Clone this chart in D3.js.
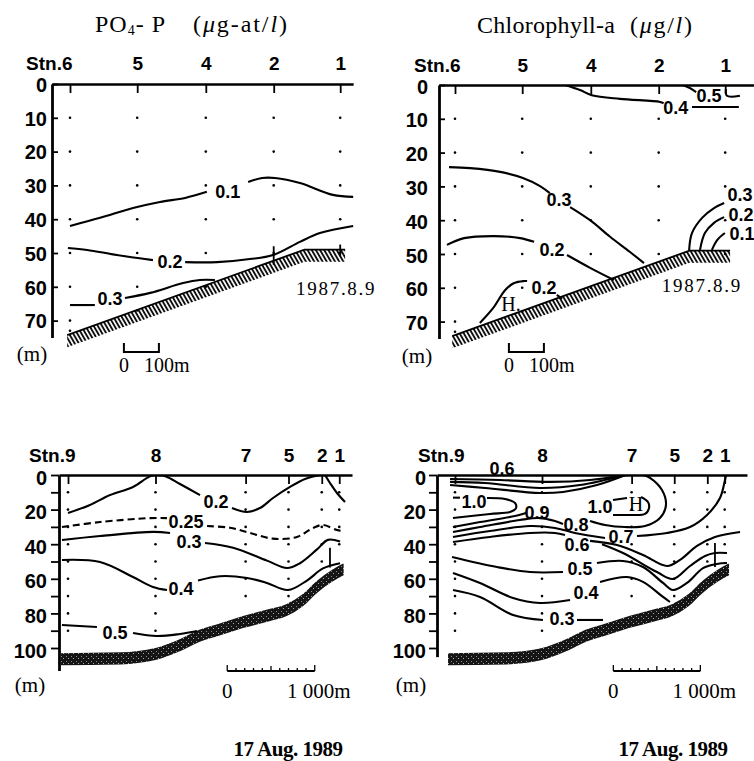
<!DOCTYPE html>
<html>
<head>
<meta charset="utf-8">
<script src="https://cdnjs.cloudflare.com/ajax/libs/d3/7.8.5/d3.min.js"></script>
<style>
  body { margin: 0; background: #fff; }
  text { fill: #000; }
  .ax text, .stn text { font-family: "Liberation Sans", Arial, sans-serif; font-weight: bold; font-size: 20px; }
  .stn text { font-size: 19px; }
  .clab { font-family: "Liberation Sans", Arial, sans-serif; font-weight: bold; font-size: 18px; }
  .serif { font-family: "Liberation Serif", "Times New Roman", serif; }
</style>
</head>
<body>
<svg id="chart" width="754" height="761"></svg>
<script>
//////////////////////////////////////////////////////////////
///////////////////////// Data ///////////////////////////////
//////////////////////////////////////////////////////////////

// distances in m along the section, depths in m

// 1987.8.9 section
var stations1987 = ["Stn.6", "5", "4", "2", "1"];
var stationDist1987 = [0, 192, 388, 582, 772];
var lastSample1987 = [73, 67, 60, 50, 50];
var depthTicks1987 = [0, 10, 20, 30, 40, 50, 60, 70];
var seabed1987 = [[-8, 74.3], [670, 49], [786, 49]];

// 17 Aug. 1989 section
var stations1989 = ["Stn.9", "8", "7", "5", "2", "1"];
var stationDist1989 = [0, 1000, 2030, 2520, 2900, 3100];
var lastSample1989 = [90, 90, 70, 70, 50, 40];
var depthTicks1989 = [0, 10, 20, 30, 40, 50, 60, 70, 80, 90, 100];
var seabed1989 = [[-80, 103], [600, 102.5], [1000, 100], [1250, 95.5], [1500, 89.5], [1750, 85.5],
                  [2000, 81.5], [2300, 77.5], [2500, 74.5], [2680, 69], [2850, 61], [3010, 55], [3150, 51]];

// contour lines: level, label position [dist, depth], line pieces
var po4_1987 = [
  {level: "0.1", label: [451, 31.8], parts: [
    [[0, 42.0], [86, 39.6], [180, 36.7], [257, 34.9], [329, 33.7], [391, 31.9]],
    [[509, 29.0], [549, 27.8], [586, 27.8], [657, 29.3], [751, 32.8], [809, 33.4]]]},
  {level: "0.2", label: [286, 52.5], parts: [
    [[-6, 48.5], [49, 49.1], [134, 50.6], [237, 52.1]],
    [[329, 52.7], [420, 52.7], [514, 51.8], [580, 50.6], [657, 46.7], [714, 44.1], [809, 42.0]]]},
  {level: "0.3", label: [114, 63.6], parts: [
    [[0, 65.4], [71, 65.4]],
    [[157, 63.3], [229, 61.8], [323, 58.9], [371, 58.0], [414, 58.0]]]}
];
var po4Marks1987 = [[582, 48, 53.5], [772, 47.5, 51]];

var chl_1987 = [
  {level: "0.4", label: [631, 6.8], parts: [
    [[315, 0], [357, 1.5], [391, 3.0], [471, 4.1], [586, 5.0], [596, 5.4]],
    [[677, 6.5], [811, 6.5]]]},
  {level: "0.5", label: [726, 3.2], parts: [
    [[651, 0], [671, 0.9], [689, 2.1]],
    [[774, 1.2], [777, 3.2], [814, 3.2]]]},
  {level: "0.3", label: [297, 34], parts: [
    [[-17, 24.3], [43, 24.6], [129, 25.7], [194, 27.5], [243, 29.9], [271, 32.0]],
    [[329, 36.1], [386, 40.0], [443, 44.9], [500, 49.4], [540, 52.7]]]},
  {level: "0.2", label: [277, 48.8], parts: [
    [[-23, 47.3], [26, 45.3], [111, 44.7], [186, 45.3], [226, 46.4]],
    [[320, 50.3], [386, 54.1], [454, 57.7]]]},
  {level: "0.2", label: [254, 59.8], parts: [
    [[71, 70.4], [111, 65.7], [143, 60.7], [169, 58.6], [197, 58.0], [206, 58.0]],
    [[291, 62.1], [306, 63.3]]]},
  {level: "0.3", label: [814, 32.3], parts: [
    [[669, 48.8], [677, 43.8], [706, 39.3], [740, 36.4], [769, 34.9]]]},
  {level: "0.2", label: [817, 38.2], parts: [
    [[700, 48.8], [714, 43.8], [740, 40.8], [769, 39.1]]]},
  {level: "0.1", label: [820, 43.8], parts: [
    [[734, 48.8], [749, 45.9], [771, 43.8]]]}
];
var chlHighs1987 = [["H.", 160, 64.8]];

var po4_1989 = [
  {level: "0.2", label: [1691, 15.3], parts: [
    [[0, 22], [251, 17.3], [480, 11.6], [743, 6.9], [937, 0.8], [1029, 0], [1120, 0.8], [1280, 5.2], [1509, 11.6]],
    [[1874, 19.1], [2046, 21.4], [2194, 19.1], [2343, 13.3], [2537, 6.9], [2709, 2.3], [2880, 0]],
    [[2937, 0], [2994, 4.6], [3074, 10.4], [3166, 15.6]]]},
  {level: "0.25", dashed: true, label: [1349, 26.9], parts: [
    [[-69, 30.1], [366, 27.2], [937, 24.9], [1131, 24.9]],
    [[1589, 29.5], [1851, 30.5], [2080, 33.5], [2343, 36.8], [2617, 35.8], [2800, 30.6], [2914, 28.9], [3074, 31.8], [3150, 32.5]]]},
  {level: "0.3", label: [1383, 38.4], parts: [
    [[-69, 37.6], [366, 35.3], [971, 32.9], [1166, 33.5]],
    [[1566, 39.3], [1886, 42], [2274, 49.5], [2503, 53.8], [2651, 51], [2846, 43], [2971, 37.5], [3109, 38.5]]]},
  {level: "0.4", label: [1291, 65.9], parts: [
    [[-69, 49.1], [366, 50.3], [743, 59.0], [971, 64.7], [1131, 66.5]],
    [[1486, 61], [1737, 58.5], [2046, 59.5], [2274, 62.4], [2514, 66.5], [2731, 61], [2914, 54], [3109, 51]]]},
  {level: "0.5", label: [537, 91], parts: [
    [[-69, 86.7], [331, 87.9]],
    [[743, 91.3], [1017, 93.1], [1280, 91.9], [1474, 90.2]]]}
];
var po4Marks1989 = [[2994, 42, 53.5]];

var chl_1989 = [
  {level: "0.6", label: [540, -4], parts: [
    [[-57, 5.8], [345, 7.5], [977, 10.4], [1241, 9.8], [1632, 5.8], [1960, 0]],
    [[-57, 4.0], [345, 4.6], [977, 7.5], [1437, 5.8], [1960, 0]],
    [[-57, 2.3], [517, 2.9], [1092, 4.0], [1552, 2.9], [1960, 0]]]},
  {level: "1.0", label: [218, 15.3], parts: [
    [[-23, 13.1], [57, 13.1]],
    [[368, 13.3], [575, 13.9], [690, 16.2], [701, 19.1], [632, 21.4], [402, 22.5], [-23, 24.9]]]},
  {level: "0.9", label: [943, 21.6], parts: [
    [[-23, 30.1], [287, 27.2], [690, 23.7], [816, 22.0]]]},
  {level: "0.8", label: [1391, 28.9], parts: [
    [[-23, 32.9], [287, 30.1], [747, 26.0], [977, 24.9], [1149, 26.6], [1241, 28.3]],
    [[1552, 26.6], [1724, 28.9], [1954, 30.1], [2184, 29.5], [2356, 24.9], [2425, 17.3], [2379, 8.7], [2241, 1.7], [2161, 0]]]},
  {level: "1.0", label: [1667, 18.5], parts: [
    [[1816, 14.5], [1977, 13.3]],
    [[2138, 12.7], [2218, 15.6], [2230, 19.1], [2184, 22.5], [2011, 23.1], [1816, 23.1]]]},
  {level: "0.7", label: [1908, 35.8], parts: [
    [[-23, 35.8], [402, 32.4], [862, 29.5], [1149, 30.6], [1379, 33.5], [1724, 36.4]],
    [[2092, 35.3], [2437, 33.5], [2701, 30.1], [2897, 23.1], [3046, 13.3], [3103, 2.9], [3115, 0]]]},
  {level: "0.6", label: [1402, 39.9], parts: [
    [[-23, 38.7], [402, 35.8], [862, 33.5], [1149, 33.5], [1264, 34.7]],
    [[1552, 38.1], [1862, 40.5], [2161, 46.2], [2437, 52.6], [2586, 49.1], [2782, 41.0], [2988, 35.8], [3276, 32.9]],
    [[1690, 40.0], [1931, 45.1], [2322, 56.1], [2506, 60.1], [2701, 52.6], [2874, 46.8], [2988, 45.1], [3126, 45.1]]]},
  {level: "0.5", label: [1437, 53.8], parts: [
    [[-34, 47.4], [483, 53.2], [862, 56.1], [1241, 56.1]],
    [[1632, 50.9], [1931, 49.7], [2161, 53.2], [2391, 62.4], [2506, 66.5], [2667, 62.4], [2851, 53.8], [3011, 51.4], [3126, 50.9]]]},
  {level: "0.4", label: [1506, 68.2], parts: [
    [[-23, 56.6], [287, 62.4], [667, 71.1], [977, 74.0], [1322, 72.3]],
    [[1667, 61.8], [1977, 59.0], [2161, 61.8], [2391, 70.5], [2471, 73.4]]]},
  {level: "0.3", label: [1230, 83.2], parts: [
    [[-23, 66.5], [287, 70.5], [667, 80.9], [1011, 83.8]],
    [[1402, 83.8], [1701, 83.8]]]}
];
var chlMarks1989 = [[2988, 39.3, 53.2]];
var chlHighs1989 = [["H", 2080, 16.8]];

//////////////////////////////////////////////////////////////
/////////////////////// Panel layout /////////////////////////
//////////////////////////////////////////////////////////////

var panels = [
  {id: "a", x0: 70, kx: 0.35, y0: 84, ky: 3.38, axisX: 52, dRight: 809, zEnd: 75,
   yTicks: depthTicks1987, labelStep: 10, tickIn: true, yPad: 5, yDy: "0.36em", stnPad: 14, stnShift: 2,
   names: stations1987, dist: stationDist1987, samples: lastSample1987,
   seabed: seabed1987, band: 3.6, fill: "url(#hatch)", contours: po4_1987, marks: po4Marks1987, highs: [],
   bar: [154, 100, 79.3], unit: [32, 361], date: ["1987.8.9", 646, 62.4]},
  {id: "b", x0: 455, kx: 0.35, y0: 85, ky: 3.38, axisX: 439, dRight: 854, zEnd: 75,
   yTicks: depthTicks1987, labelStep: 10, tickIn: true, yPad: 11, yDy: "0.4em", stnPad: 13, stnShift: 5,
   names: stations1987, dist: stationDist1987, samples: lastSample1987,
   seabed: seabed1987, band: 3.6, fill: "url(#hatch)", contours: chl_1987, marks: [], highs: chlHighs1987,
   bar: [154, 100, 79], unit: [417, 363], date: ["1987.8.9", 591, 61.2]},
  {id: "c", x0: 68, kx: 0.0875, y0: 475, ky: 1.73, axisX: 59, dRight: 3246, zEnd: 113,
   yTicks: depthTicks1989, labelStep: 20, tickIn: false, yPad: 4, yDy: "0.45em", stnPad: 13, stnShift: 7,
   names: stations1989, dist: stationDist1989, samples: lastSample1989,
   seabed: seabed1989, band: 7, fill: "url(#stipple)", contours: po4_1989, marks: po4Marks1989, highs: [],
   bar: [1820, 1000, 113.3], unit: [30, 692], footer: [288, 756]},
  {id: "d", x0: 455, kx: 0.087, y0: 475, ky: 1.73, axisX: 437, dRight: 3356, zEnd: 105,
   yTicks: depthTicks1989, labelStep: 20, tickIn: false, yPad: 3, yDy: "0.45em", stnPad: 13, stnShift: 9,
   names: stations1989, dist: stationDist1989, samples: lastSample1989,
   seabed: seabed1989, band: 7, fill: "url(#stipple)", contours: chl_1989, marks: chlMarks1989, highs: chlHighs1989,
   bar: [1820, 1000, 113.3], unit: [411, 692], footer: [673, 756]}
];

//////////////////////////////////////////////////////////////
//////////////////////// Drawing /////////////////////////////
//////////////////////////////////////////////////////////////

var svg = d3.select("#chart");
svg.append("rect").attr("width", 754).attr("height", 761).attr("fill", "#fff");

var defs = svg.append("defs");

//Hatching under the 1987 bottom
var hatch = defs.append("pattern")
    .attr("id", "hatch")
    .attr("patternUnits", "userSpaceOnUse")
    .attr("width", 3.6).attr("height", 10)
    .attr("patternTransform", "rotate(-30)");
hatch.append("line")
    .attr("x1", 1).attr("y1", 0).attr("x2", 1).attr("y2", 10)
    .attr("stroke", "#000").attr("stroke-width", 1.8);

//Stippled band for the 1989 bottom
var stip = defs.append("pattern")
    .attr("id", "stipple")
    .attr("patternUnits", "userSpaceOnUse")
    .attr("width", 5).attr("height", 5);
stip.append("rect").attr("width", 5).attr("height", 5).attr("fill", "#151515");
stip.append("rect").attr("x", 1).attr("y", 1).attr("width", 1).attr("height", 1).attr("fill", "#8a8a8a");
stip.append("rect").attr("x", 3).attr("y", 3).attr("width", 1).attr("height", 1).attr("fill", "#aaa");

function drawPanel(p) {
  var dLeft = (p.axisX - p.x0) / p.kx;
  var x = d3.scaleLinear().domain([dLeft, p.dRight]).range([p.axisX, p.x0 + p.dRight * p.kx]);
  var y = d3.scaleLinear().domain([0, p.zEnd]).range([p.y0, p.y0 + p.zEnd * p.ky]);
  var g = svg.append("g").attr("class", "panel-" + p.id);

  //Clip for lines
  defs.append("clipPath").attr("id", "clip-" + p.id)
    .append("rect")
      .attr("x", p.axisX).attr("y", p.y0)
      .attr("width", 754 - p.axisX).attr("height", 400);

  //Bottom
  var bandArea = d3.area()
      .x(function(d) { return x(d[0]); })
      .y0(function(d) { return y(d[1]); })
      .y1(function(d) { return y(d[1] + p.band); })
      .curve(p.band > 5 ? d3.curveMonotoneX : d3.curveLinear);
  g.append("path").attr("d", bandArea(p.seabed)).attr("fill", p.fill);
  if (p.band < 5) {
    g.append("path")
      .attr("d", d3.line().x(function(d) { return x(d[0]); }).y(function(d) { return y(d[1]); })(p.seabed))
      .attr("fill", "none").attr("stroke", "#000").attr("stroke-width", 1.8);
  }

  //Sample dots
  var dots = [];
  p.dist.forEach(function(dd, i) {
    var zs = d3.range(10, p.samples[i] + 0.1, 10);
    if (p.samples[i] % 10 !== 0) zs.push(p.samples[i]);
    zs.forEach(function(z) { dots.push([dd, z]); });
  });
  g.selectAll(".dot").data(dots).enter()
    .append("circle")
      .attr("cx", function(d) { return x(d[0]); })
      .attr("cy", function(d) { return y(d[1]); })
      .attr("r", 1.3)
      .attr("fill", "#000");

  //Contours
  var line = d3.line()
      .x(function(d) { return x(d[0]); })
      .y(function(d) { return y(d[1]); })
      .curve(d3.curveCatmullRom.alpha(0.5));
  var lines = g.append("g").attr("clip-path", "url(#clip-" + p.id + ")");
  p.contours.forEach(function(c) {
    c.parts.forEach(function(part) {
      lines.append("path")
        .attr("d", line(part))
        .attr("fill", "none")
        .attr("stroke", "#000")
        .attr("stroke-width", 2.1)
        .attr("stroke-dasharray", c.dashed ? "7,4" : null);
    });
    g.append("text")
      .attr("class", "clab")
      .attr("x", x(c.label[0]))
      .attr("y", y(c.label[1]))
      .attr("dy", "0.36em")
      .attr("text-anchor", "middle")
      .text(c.level);
  });

  //Bottom station marks
  p.marks.forEach(function(m) {
    g.append("line")
      .attr("x1", x(m[0])).attr("x2", x(m[0]))
      .attr("y1", y(m[1])).attr("y2", y(m[2]))
      .attr("stroke", "#000").attr("stroke-width", 1.8);
  });

  //Maxima
  p.highs.forEach(function(h) {
    g.append("text").attr("class", "serif")
      .attr("x", x(h[1])).attr("y", y(h[2])).attr("dy", "0.35em")
      .attr("text-anchor", "middle").style("font-size", "20px")
      .text(h[0]);
  });

  //Top (surface) axis with stations
  var xAxis = d3.axisTop(x)
      .tickValues(p.dist)
      .tickFormat(function(d, i) { return p.names[i]; })
      .tickSizeInner(-9).tickSizeOuter(0)
      .tickPadding(p.stnPad);
  var gx = g.append("g").attr("class", "stn")
      .attr("transform", "translate(0," + p.y0 + ")")
      .call(xAxis);
  gx.attr("font-size", null).attr("font-family", null);
  gx.select(".domain").attr("stroke-width", 2.4);
  gx.selectAll(".tick line").attr("stroke-width", 1.8);
  gx.selectAll(".tick text").filter(function(d, i) { return i === 0; })
    .attr("text-anchor", "end").attr("x", p.stnShift);

  //Depth axis
  var yAxis = d3.axisLeft(y)
      .tickValues(p.yTicks)
      .tickFormat(function(d) { return d % p.labelStep === 0 ? d : ""; })
      .tickSizeInner(p.tickIn ? -6 : 8).tickSizeOuter(0)
      .tickPadding(p.yPad);
  var gy = g.append("g").attr("class", "ax")
      .attr("transform", "translate(" + p.axisX + ",0)")
      .call(yAxis);
  gy.attr("font-size", null).attr("font-family", null);
  gy.select(".domain").attr("stroke-width", 2.8);
  gy.selectAll(".tick line").attr("stroke-width", 1.8);
  gy.selectAll(".tick text").attr("dy", p.yDy);

  //Unit
  g.append("text").attr("class", "serif")
    .attr("x", p.unit[0]).attr("y", p.unit[1])
    .attr("text-anchor", "middle").style("font-size", "21px")
    .text("(m)");

  //Distance scale bar
  var b0 = x(p.bar[0]), b1 = x(p.bar[0] + p.bar[1]), by = y(p.bar[2]);
  if (p.bar[1] === 100) {
    g.append("path")
      .attr("d", "M" + b0 + "," + (by - 9) + "V" + by + "H" + b1 + "V" + (by - 9))
      .attr("fill", "none").attr("stroke", "#000").attr("stroke-width", 2);
    g.append("text").attr("class", "serif").attr("x", b0).attr("y", by + 20)
      .attr("text-anchor", "middle").style("font-size", "20px").text("0");
    g.append("text").attr("class", "serif").attr("x", b0 + 20).attr("y", by + 20)
      .style("font-size", "20px").text("100m");
  } else {
    g.append("line").attr("x1", b0).attr("x2", b1).attr("y1", by).attr("y2", by)
      .attr("stroke", "#000").attr("stroke-width", 1.8);
    d3.range(0, p.bar[1] + 1, p.bar[1] / 10).forEach(function(k, i) {
      var h = (i === 0 || i === 10) ? 6 : (i === 5 ? 5 : 3);
      g.append("line")
        .attr("x1", x(p.bar[0] + k)).attr("x2", x(p.bar[0] + k))
        .attr("y1", by).attr("y2", by - h)
        .attr("stroke", "#000").attr("stroke-width", 1.3);
    });
    g.append("text").attr("class", "serif").attr("x", b0).attr("y", by + 27)
      .attr("text-anchor", "middle").style("font-size", "21px").text("0");
    g.append("text").attr("class", "serif").attr("x", b1 + 4).attr("y", by + 27)
      .attr("text-anchor", "middle").style("font-size", "21px").text("1 000m");
  }

  //Dates
  if (p.date) {
    g.append("text").attr("class", "serif")
      .attr("x", x(p.date[1])).attr("y", y(p.date[2]))
      .style("font-size", "19px").style("letter-spacing", "1.7px")
      .text(p.date[0]);
  }
  if (p.footer) {
    g.append("text").attr("class", "serif")
      .attr("x", p.footer[0]).attr("y", p.footer[1])
      .attr("text-anchor", "middle")
      .style("font-size", "21px").style("font-weight", "bold").style("letter-spacing", "-0.5px")
      .text("17 Aug. 1989");
  }
}

panels.forEach(drawPanel);

//////////////////////////////////////////////////////////////
///////////////////////// Titles /////////////////////////////
//////////////////////////////////////////////////////////////

var t1 = svg.append("text").attr("class", "serif")
    .attr("x", 95).attr("y", 32).style("font-size", "24px").style("letter-spacing", "1px");
t1.append("tspan").text("PO");
t1.append("tspan").attr("dy", 3).style("font-size", "14px").text("4");
t1.append("tspan").attr("dy", -3).text("- P");

var t2 = svg.append("text").attr("class", "serif")
    .attr("x", 193).attr("y", 32).style("font-size", "24px")
    .attr("textLength", 94).attr("lengthAdjust", "spacing");
t2.append("tspan").text("(");
t2.append("tspan").style("font-style", "italic").text("\u03bc");
t2.append("tspan").text("g-at/");
t2.append("tspan").style("font-style", "italic").text("l");
t2.append("tspan").text(")");

svg.append("text").attr("class", "serif")
    .attr("x", 477).attr("y", 33).style("font-size", "24px")
    .attr("textLength", 138).attr("lengthAdjust", "spacing")
    .text("Chlorophyll-a");

var t4 = svg.append("text").attr("class", "serif")
    .attr("x", 630).attr("y", 33).style("font-size", "24px")
    .attr("textLength", 62).attr("lengthAdjust", "spacing");
t4.append("tspan").text("(");
t4.append("tspan").style("font-style", "italic").text("\u03bc");
t4.append("tspan").text("g/");
t4.append("tspan").style("font-style", "italic").text("l");
t4.append("tspan").text(")");
</script>
</body>
</html>
